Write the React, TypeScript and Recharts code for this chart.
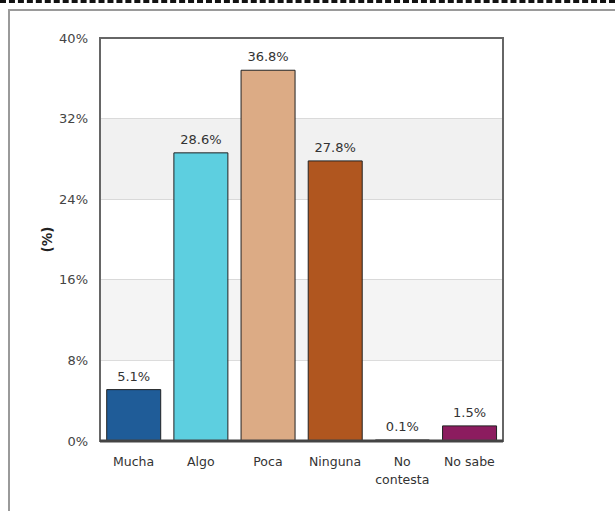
import React from "react";
import {
  BarChart,
  Bar,
  XAxis,
  YAxis,
  CartesianGrid,
  Cell,
  LabelList,
  ReferenceArea,
} from "recharts";

const categories = ["Mucha", "Algo", "Poca", "Ninguna", "No contesta", "No sabe"];
const values = [5.1, 28.6, 36.8, 27.8, 0.1, 1.5];
const barColors = ["#1f5c98", "#5dcfe0", "#dcab85", "#b0561f", "#2e2e2e", "#8c1c5f"];
const yTicks = [0, 8, 16, 24, 32, 40];

const data = categories.map((name, i) => ({ name, value: values[i] }));

const FONT = "'DejaVu Sans', Verdana, sans-serif";

function XTick(props: any) {
  const { x, y, payload } = props;
  const words = payload.value === "No contesta" ? ["No", "contesta"] : [payload.value];
  return (
    <text x={x} y={y + 17} textAnchor="middle" fill="#333" fontSize={12.5} fontFamily={FONT}>
      {words.map((w: string, i: number) => (
        <tspan key={i} x={x} dy={i === 0 ? 0 : 18}>
          {w}
        </tspan>
      ))}
    </text>
  );
}

export default function App() {
  return (
    <div style={{ position: "absolute", left: 0, top: 0, width: 615, height: 511, background: "#fff" }}>
      <div
        style={{
          position: "absolute",
          left: 0,
          top: 0,
          width: 615,
          height: 0,
          borderTop: "3px dashed #111",
        }}
      />
      <div
        style={{
          position: "absolute",
          left: 8,
          top: 9,
          width: 620,
          height: 520,
          borderTop: "2px solid #9a9a9a",
          borderLeft: "2px solid #9a9a9a",
        }}
      />
      <div style={{ position: "absolute", left: 0, top: 0 }}>
        <BarChart
          width={615}
          height={511}
          data={data}
          margin={{ top: 38, right: 112, bottom: 40, left: 40 }}
          barCategoryGap="10%"
        >
          <ReferenceArea y1={24} y2={32} fill="#f1f1f1" fillOpacity={1} stroke="none" />
          <ReferenceArea y1={8} y2={16} fill="#f4f4f4" fillOpacity={1} stroke="none" />
          <CartesianGrid vertical={false} stroke="#bdbdbd" />
          <ReferenceArea y1={0} y2={40} fill="none" stroke="#666" strokeWidth={2} />
          <XAxis
            dataKey="name"
            height={30}
            tick={<XTick />}
            tickLine={false}
            axisLine={{ stroke: "#444", strokeWidth: 3 }}
            interval={0}
          />
          <YAxis
            width={60}
            domain={[0, 40]}
            ticks={yTicks}
            tickFormatter={(v: number) => `${v}%`}
            tickLine={false}
            axisLine={false}
            tickMargin={6}
            tick={{ fontSize: 13, fill: "#444", fontFamily: FONT }}
            label={{
              value: "(%)",
              angle: -90,
              position: "insideLeft",
              offset: 0,
              dx: 7,
              style: { fontSize: 13.5, fontWeight: "bold", fill: "#222", fontFamily: FONT, textAnchor: "middle" },
            }}
          />
          <Bar dataKey="value" stroke="#222" strokeWidth={1} isAnimationActive={false}>
            {data.map((_, i) => (
              <Cell key={`cell-${i}`} fill={barColors[i]} />
            ))}
            <LabelList
              dataKey="value"
              position="top"
              offset={9}
              formatter={(v: number) => `${v}%`}
              style={{ fontSize: 13, fill: "#333", fontFamily: FONT }}
            />
          </Bar>
        </BarChart>
      </div>
    </div>
  );
}
